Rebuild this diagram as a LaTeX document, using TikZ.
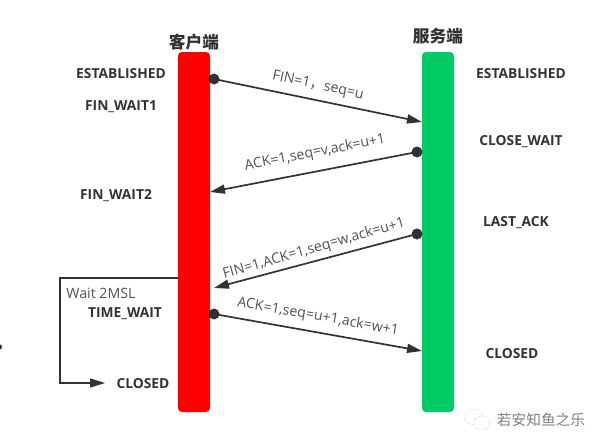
\documentclass[tikz,border=0pt]{standalone}
\usepackage{fontspec}
\setmainfont{Open Sans}
\newfontfamily\cjk{Noto Sans CJK SC}
\usetikzlibrary{arrows.meta}
\definecolor{linegray}{HTML}{323232}
\definecolor{servergreen}{HTML}{00CC66}
\tikzset{
    bar/.style={draw=none, minimum width=32pt, minimum height=360pt, rounded corners=4pt, inner sep=0pt},
    state/.style={font=\fontsize{13.8}{15}\selectfont\bfseries, text=linegray, inner sep=0pt},
    msg/.style={font=\fontsize{14.2}{16}\selectfont, text=linegray!85, inner sep=0pt},
    endname/.style={font=\cjk\fontsize{16.7}{18}\selectfont\bfseries, text=linegray, inner sep=0pt},
    dot/.style={circle, fill=linegray, minimum size=11pt, inner sep=0pt},
    link/.style={draw=linegray, line width=1.7pt, -{Triangle[length=15pt,width=9pt]}}
}
\begin{document}
\begin{tikzpicture}[x=1pt,y=-1pt]
    \useasboundingbox (0,0) rectangle (605,447);
    % Draw the two bars
    \node[bar, fill=red] (client) at (194,232) {};
    \node[bar, fill=servergreen] (server) at (438,232) {};
    \node[endname] (clientname) at (194,42) {客户端};
    \node[endname] (servername) at (438,36) {服务端};

    % States on the left
    \node[state] (c1) at (121,73.5) {ESTABLISHED};
    \node[state] (c2) at (121,107) {FIN\_WAIT1};
    \node[state] (c3) at (116,196) {FIN\_WAIT2};
    \node[state] (c4) at (125,314) {TIME\_WAIT};
    \node[state] (c5) at (143,383.5) {CLOSED};

    % States on the right
    \node[state] (s1) at (521,73.5) {ESTABLISHED};
    \node[state] (s2) at (521,142) {CLOSE\_WAIT};
    \node[state] (s3) at (516,223) {LAST\_ACK};
    \node[state] (s4) at (512,353.5) {CLOSED};

    % Start dots and free arrow ends
    \node[dot] (d1) at (214,79) {};
    \node[dot] (d2) at (417,152) {};
    \node[dot] (d3) at (417,234) {};
    \node[dot] (d4) at (214,314) {};
    \coordinate (e1) at (422,122);
    \coordinate (e2) at (210,192);
    \coordinate (e3) at (214,288);
    \coordinate (e4) at (422,351);
    \draw[link] (d1.center) -- (e1);
    \draw[link] (d2.center) -- (e2);
    \draw[link] (d3.center) -- (e3);
    \draw[link] (d4.center) -- (e4);

    % Labels of the messages
    \node[msg, rotate=-12] (m1) at (318,86) {FIN=1{\cjk ，}seq=u};
    \node[msg, rotate=11] (m2) at (315,153) {ACK=1,seq=v,ack=u+1};
    \node[msg, rotate=16] (m3) at (314,249) {FIN=1,ACK=1,seq=w,ack=u+1};
    \node[msg, rotate=-10] (m4) at (318,317) {ACK=1,seq=u+1,ack=w+1};

    % Wait loop
    \coordinate (w0) at (178,278);
    \coordinate (w1) at (60,278);
    \coordinate (w2) at (60,383);
    \coordinate (w3) at (105,383);
    \draw[link, line width=1.3pt] (w0) -- (w1) -- (w2) -- (w3);
    \node[msg] (waitlabel) at (101,293) {Wait 2MSL};

    % Mark at the left edge and the sign in the corner
    \node[circle, fill=linegray, minimum size=6pt, inner sep=0pt] (edge) at (-1,347) {};
    \draw[gray!70, densely dotted] (474,417) ellipse (9pt and 8pt);
    \draw[gray!70, densely dotted, fill=white] (482,423) ellipse (8pt and 7pt);
    \node[font=\cjk\fontsize{14.7}{16}\selectfont, text=gray] (sign) at (541,420) {若安知鱼之乐};
\end{tikzpicture}
\end{document}
